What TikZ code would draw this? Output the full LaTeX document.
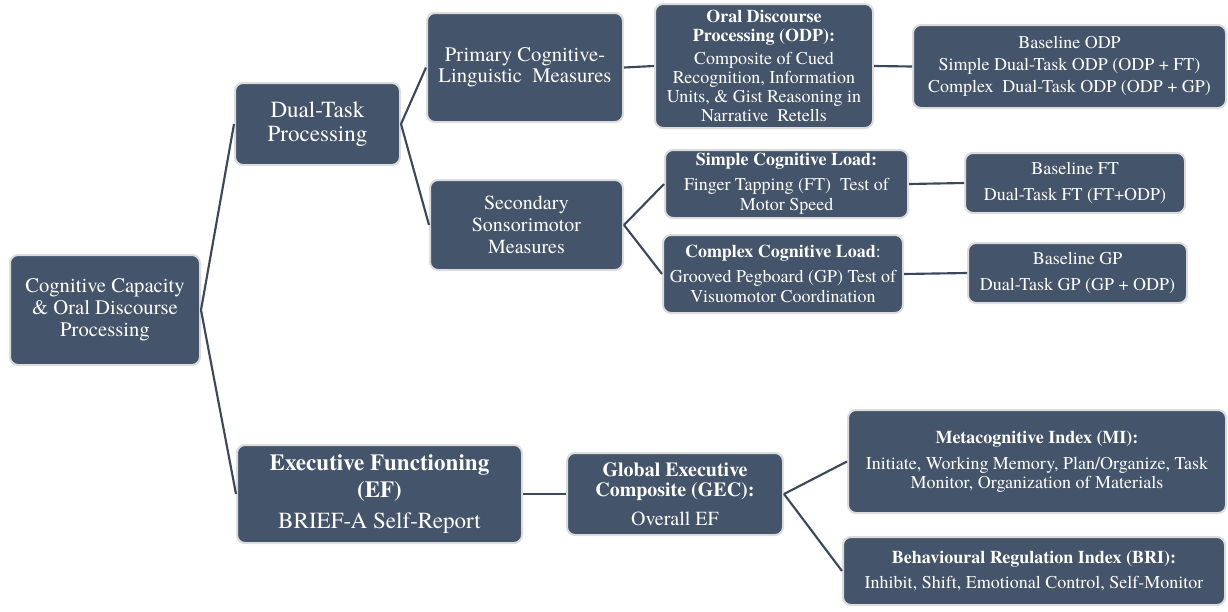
\documentclass[tikz,border=0pt]{standalone}
\usepackage{fontspec}
\setmainfont{texgyretermes}[Extension=.otf,UprightFont=*-regular,BoldFont=*-bold,ItalicFont=*-italic,BoldItalicFont=*-bolditalic]
\usetikzlibrary{positioning}
\definecolor{boxfill}{HTML}{44546A}
\definecolor{boxedge}{HTML}{DCDCDC}
\definecolor{linkcol}{HTML}{3A485C}
\newcommand{\fs}[2]{\fontsize{#1}{#2}\selectfont}

\begin{document}
\begin{tikzpicture}[x=0.75pt,y=-0.75pt,
  box/.style={draw=boxedge,line width=1.5pt,fill=boxfill,rounded corners=6pt,text=white,align=center,inner sep=0pt},
  sz/.style 2 args={minimum width=#1pt*0.75,minimum height=#2pt*0.75},
  leaf/.style={box,font=\fs{13.5}{15}},
  link/.style={draw=linkcol,line width=1.6pt}]
\useasboundingbox (0,0) rectangle (1228,611);
\node[box,sz={190}{110},font=\fs{15.5}{16.5}] (cap) at (105,310) {Cognitive Capacity\\\& Oral Discourse\\Processing};
\node[box,sz={165}{82},font=\fs{17.3}{18}] (dual) at (317.5,124) {Dual-Task\\Processing};
\node[box,sz={196}{109},font=\fs{15.5}{16}] (prim) at (525,67.5) {Primary Cognitive-\\Linguistic\ \ Measures};
\node[box,sz={193}{90},font=\fs{15}{16.5}] (sec) at (526.5,225) {Secondary\\Sonsorimotor\\Measures};
\node[leaf,sz={218}{124},font=\fs{13.5}{14.2}] (odp) at (764,66) {\textbf{Oral Discourse}\\\textbf{Processing (ODP):}\\[3pt]Composite of Cued\\Recognition, Information\\Units, \& Gist Reasoning in\\Narrative\ \ Retells};
\node[leaf,sz={313}{83},font=\fs{13.5}{16.5}] (bodp) at (1069.5,66.5) {Baseline ODP\\Simple Dual-Task ODP (ODP + FT)\\Complex\ \ Dual-Task ODP (ODP + GP)};
\node[leaf,sz={243}{68}] (sft) at (786.5,184) {\textbf{Simple Cognitive Load:}\\[3.5pt]Finger Tapping (FT)\ \ Test of\\Motor Speed};
\node[leaf,sz={240}{78}] (cgp) at (783,274) {\textbf{Complex Cognitive Load}:\\[3.5pt]Grooved Pegboard (GP) Test of\\Visuomotor Coordination};
\node[leaf,sz={220}{60},font=\fs{13.5}{20}] (bft) at (1075,183) {Baseline FT\\Dual-Task FT (FT+ODP)};
\node[leaf,sz={219}{60},font=\fs{13.5}{19.5}] (bgp) at (1077.5,273) {Baseline GP\\Dual-Task GP (GP + ODP)};
\node[box,sz={285}{98},font=\fs{17.3}{20}] (ef) at (379.5,494) {\textbf{Executive Functioning}\\\textbf{(EF)}\\[3pt]BRIEF-A Self-Report};
\node[box,sz={216}{82},font=\fs{15}{15}] (gec) at (675,494) {\textbf{Global Executive}\\\textbf{Composite (GEC):}\\[7pt]Overall EF};
\node[leaf,sz={378}{103},font=\fs{13.5}{14.5}] (mi) at (1037,461.5) {\textbf{Metacognitive Index (MI):}\\[5pt]Initiate, Working Memory, Plan/Organize, Task\\Monitor, Organization of Materials};
\node[leaf,sz={382}{68},font=\fs{13.5}{19}] (bri) at (1034,571) {\textbf{Behavioural Regulation Index (BRI):}\\Inhibit, Shift, Emotional Control, Self-Monitor};
\draw[link] (cap.east)--(dual.west);
\draw[link] (cap.east)--(ef.west);
\draw[link] (dual.east)--(prim.west);
\draw[link] (dual.east)--(sec.west);
\draw[link] (prim.east)--(odp.west);
\draw[link] (odp.east)--(bodp.west);
\draw[link] (sec.east)--(sft.west);
\draw[link] (sec.east)--(cgp.west);
\draw[link] (sft.east)--(bft.west);
\draw[link] (cgp.east)--(bgp.west);
\draw[link] (ef.east)--(gec.west);
\draw[link] (gec.east)--(mi.west);
\draw[link] (gec.east)--(bri.west);
\end{tikzpicture}
\end{document}
